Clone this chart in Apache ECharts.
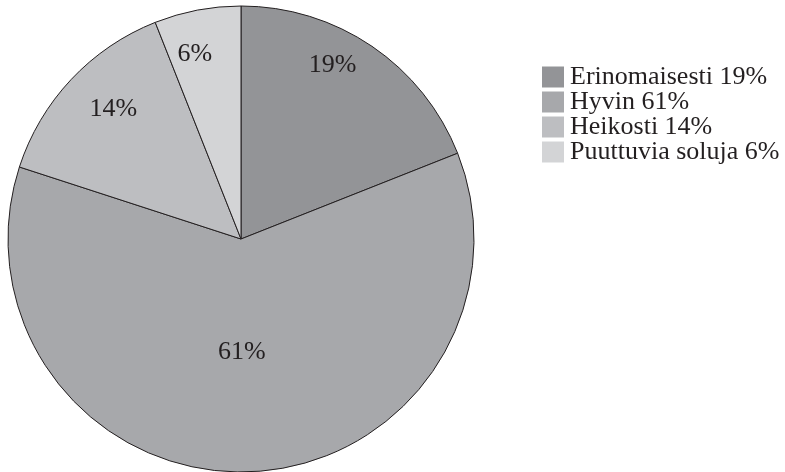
<!DOCTYPE html>
<html>
<head>
<meta charset="utf-8">
<script src="https://cdn.jsdelivr.net/npm/echarts@6/dist/echarts.min.js"></script>
<style>
html, body { margin: 0; padding: 0; background: #fff; }
#chart { width: 785px; height: 472px; }
</style>
</head>
<body>
<div id="chart"></div>
<script>
var categories = ["Erinomaisesti", "Hyvin", "Heikosti", "Puuttuvia soluja"];
var values = [19, 61, 14, 6];
var colors = ["#939497", "#a7a8ab", "#bdbec1", "#d3d4d6"];

var font = "'Liberation Serif', 'Times New Roman', serif";
var ink = "#231f20";

// small [dx, dy] nudges of the slice labels, same order as categories
var labelNudge = [
	[-17, -14],
	[-3, -6],
	[13, 2],
	[-10, 5],
];

function nudgedLabel(i, show) {
	var dx = labelNudge[i][0];
	var dy = labelNudge[i][1];
	var lab = {
		show: show,
		padding: dx < 0 ? [0, -2 * dx, 0, 0] : [0, 0, 0, 2 * dx],
		formatter: "{c}%",
	};
	// an empty line above/below moves the text by half a line
	if (dy < 0) {
		lab.formatter = "{c}%\n";
		lab.lineHeight = -2 * dy;
	} else if (dy > 0) {
		lab.formatter = "\n{c}%";
		lab.lineHeight = 2 * dy;
	}
	return lab;
}

var pieData = categories.map(function (name, i) {
	return {
		name: name,
		value: values[i],
		itemStyle: { color: colors[i] },
		// only the big slice keeps its label on the main pie
		label: nudgedLabel(i, values[i] > 50),
	};
});

// transparent ring that carries the labels of the small slices further out
var labelData = categories.map(function (name, i) {
	return {
		name: name,
		value: values[i],
		label: nudgedLabel(i, values[i] <= 50),
	};
});

var myChart = echarts.init(document.getElementById("chart"));
myChart.setOption({
	animation: false,
	color: colors,
	legend: {
		orient: "vertical",
		left: 542,
		top: 64,
		padding: 0,
		icon: "rect",
		itemWidth: 22,
		itemHeight: 21,
		itemGap: -1,
		data: categories,
		itemStyle: { borderWidth: 0 },
		formatter: function (name) {
			return name + " " + values[categories.indexOf(name)] + "%";
		},
		textStyle: {
			fontFamily: font,
			fontSize: 26,
			lineHeight: 21,
			color: ink,
			padding: [2, 0, 0, 1],
		},
	},
	series: [
		{
			type: "pie",
			center: [241, 239],
			radius: [0, 233],
			startAngle: 90,
			clockwise: true,
			data: pieData,
			itemStyle: {
				borderColor: ink,
				borderWidth: 1,
			},
			label: {
				position: "inside",
				fontFamily: font,
				fontSize: 26,
				color: ink,
			},
			labelLine: { show: false },
			emphasis: { disabled: true },
		},
		{
			type: "pie",
			center: [241, 239],
			radius: [147, 233],
			startAngle: 90,
			clockwise: true,
			silent: true,
			data: labelData,
			itemStyle: { color: "rgba(0,0,0,0)" },
			label: {
				position: "inside",
				fontFamily: font,
				fontSize: 26,
				color: ink,
			},
			labelLine: { show: false },
			emphasis: { disabled: true },
		},
	],
});
</script>
</body>
</html>
